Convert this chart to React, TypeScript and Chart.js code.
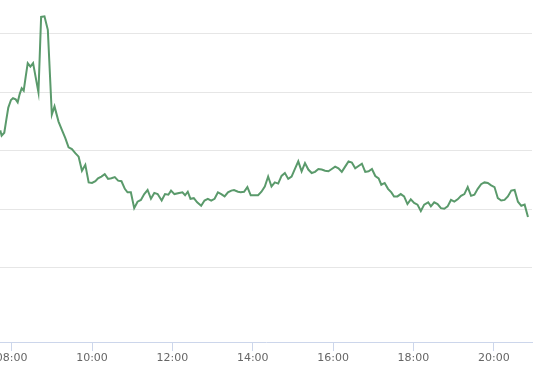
import React, { useEffect, useRef } from "react";
import { Chart, registerables } from "chart.js";

Chart.register(...registerables);

const times = [
  "07:43","07:45","07:49","07:52","07:55","07:59","08:02","08:06","08:09","08:12",
  "08:15","08:18","08:21","08:24","08:28","08:32","08:40","08:44","08:49","08:54",
  "09:00","09:04","09:10","09:15","09:20","09:25","09:30","09:35","09:40","09:45",
  "09:50","09:55","10:00","10:05","10:09","10:14","10:19","10:24","10:29","10:34",
  "10:39","10:44","10:49","10:53","10:58","11:03","11:08","11:13","11:18","11:23",
  "11:28","11:33","11:38","11:44","11:49","11:54","11:58","12:03","12:10","12:15",
  "12:19","12:23","12:27","12:32","12:37","12:43","12:48","12:53","12:58","13:03",
  "13:08","13:13","13:18","13:23","13:28","13:32","13:38","13:42","13:47","13:52",
  "13:57","14:02","14:08","14:13","14:18","14:23","14:28","14:33","14:38","14:43",
  "14:48","14:53","14:58","15:03","15:08","15:13","15:18","15:23","15:28","15:33",
  "15:38","15:43","15:48","15:53","15:58","16:03","16:08","16:13","16:18","16:23",
  "16:28","16:33","16:38","16:43","16:48","16:53","16:58","17:03","17:08","17:12",
  "17:17","17:22","17:27","17:31","17:36","17:41","17:46","17:51","17:56","18:01",
  "18:06","18:11","18:16","18:22","18:26","18:31","18:36","18:41","18:46","18:51",
  "18:56","19:01","19:06","19:11","19:16","19:21","19:26","19:31","19:36","19:41",
  "19:46","19:51","19:56","20:01","20:06","20:11","20:16","20:21","20:26","20:31",
  "20:36","20:41","20:46","20:51"
];

const values = [
  3.35,3.26,3.31,3.53,3.74,3.87,3.90,3.88,3.83,3.97,
  4.07,4.03,4.27,4.50,4.44,4.50,4.00,5.29,5.30,5.07,
  3.62,3.76,3.50,3.36,3.22,3.06,3.03,2.96,2.90,2.66,
  2.76,2.46,2.45,2.48,2.53,2.56,2.60,2.52,2.53,2.55,
  2.49,2.48,2.35,2.29,2.29,2.02,2.13,2.16,2.26,2.33,
  2.18,2.28,2.26,2.15,2.26,2.25,2.32,2.26,2.28,2.29,
  2.24,2.30,2.18,2.19,2.12,2.06,2.15,2.18,2.15,2.18,
  2.29,2.26,2.22,2.29,2.32,2.33,2.30,2.29,2.30,2.38,
  2.24,2.24,2.24,2.30,2.39,2.56,2.39,2.46,2.44,2.57,
  2.62,2.52,2.56,2.69,2.82,2.65,2.79,2.68,2.62,2.64,
  2.69,2.68,2.66,2.65,2.69,2.73,2.70,2.64,2.73,2.82,
  2.80,2.70,2.74,2.78,2.64,2.65,2.69,2.57,2.53,2.42,
  2.45,2.35,2.29,2.22,2.22,2.26,2.22,2.09,2.17,2.11,
  2.08,1.97,2.08,2.12,2.05,2.12,2.09,2.02,2.01,2.05,
  2.16,2.13,2.17,2.23,2.26,2.38,2.23,2.25,2.35,2.43,
  2.46,2.45,2.41,2.38,2.19,2.15,2.16,2.22,2.32,2.33,
  2.13,2.06,2.08,1.87
];

const xTickTimes = ["08:00", "10:00", "12:00", "14:00", "16:00", "18:00", "20:00"];
const yGridValues = [1, 2, 3, 4, 5];

const toMin = (s: string) => {
  const [h, m] = s.split(":").map(Number);
  return h * 60 + m;
};
const fmt = (v: number) => {
  const h = Math.floor(v / 60);
  const m = Math.round(v - h * 60);
  return String(h).padStart(2, "0") + ":" + String(m).padStart(2, "0");
};

export default function App() {
  const ref = useRef<HTMLCanvasElement | null>(null);
  useEffect(() => {
    if (!ref.current) return;
    const chart = new Chart(ref.current, {
      type: "line",
      data: {
        datasets: [
          {
            data: times.map((t, i) => ({ x: toMin(t), y: values[i] })),
            borderColor: "#5a9a6b",
            borderWidth: 2,
            pointRadius: 0,
            tension: 0,
            fill: false,
          },
        ],
      },
      options: {
        animation: false,
        responsive: false,
        maintainAspectRatio: false,
        layout: { padding: { left: 0, right: 3, top: 0, bottom: 0 } },
        plugins: { legend: { display: false }, tooltip: { enabled: false } },
        scales: {
          x: {
            type: "linear",
            min: 462.6,
            max: 1257,
            afterBuildTicks: (scale: any) => {
              scale.ticks = xTickTimes.map((t) => ({ value: toMin(t) }));
            },
            afterFit: (scale: any) => {
              scale.height = 35;
              scale.paddingLeft = 0;
              scale.paddingRight = 0;
            },
            grid: {
              drawOnChartArea: false,
              drawTicks: true,
              tickLength: 9,
              color: "#ccd6eb",
            },
            border: { display: true, color: "#ccd6eb" },
            ticks: {
              color: "#666666",
              padding: 1,
              maxRotation: 0,
              autoSkip: false,
              font: { family: "DejaVu Sans", size: 11 },
              callback: (v: any) => fmt(Number(v)),
            },
          },
          y: {
            min: -0.27,
            max: 5.58,
            afterBuildTicks: (scale: any) => {
              scale.ticks = yGridValues.map((v) => ({ value: v }));
            },
            afterFit: (scale: any) => {
              scale.width = 0;
              scale.paddingTop = 0;
              scale.paddingBottom = 0;
            },
            grid: { color: "#e6e6e6", drawTicks: false },
            border: { display: false },
            ticks: { display: false },
          },
        },
      },
    });
    return () => chart.destroy();
  }, []);
  return (
    <div style={{ position: "fixed", left: 0, top: 0, width: 535, height: 377, background: "#fff" }}>
      <canvas ref={ref} width={535} height={377} style={{ width: 535, height: 377 }} />
    </div>
  );
}
